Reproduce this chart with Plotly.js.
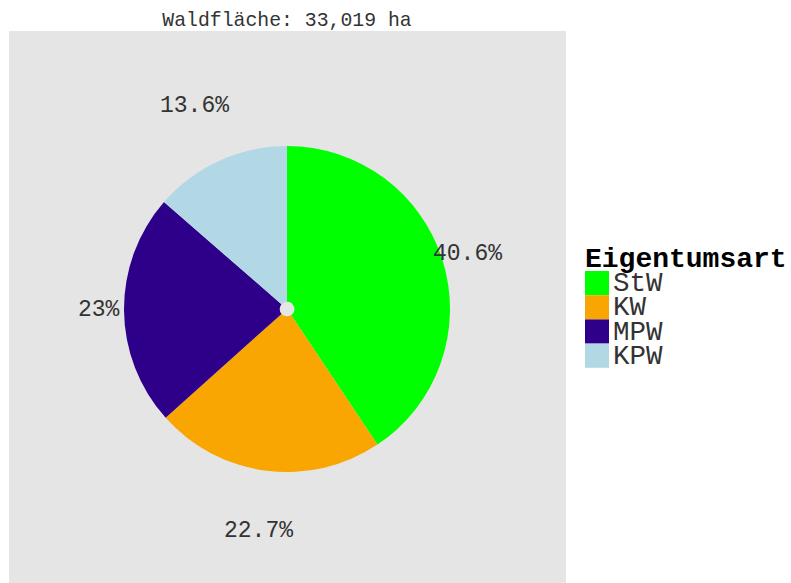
<!DOCTYPE html>
<html>
<head>
<meta charset="utf-8">
<script src="https://cdn.plot.ly/plotly-3.0.1.min.js"></script>
<style>html,body{margin:0;padding:0;background:#fff;}#chart{width:791px;height:583px;}</style>
</head>
<body>
<div id="chart"></div>
<script>
// ---- data ----
const categories = ["StW", "KW", "MPW", "KPW"];
const shares = [40.6, 22.7, 23, 13.6];
const sliceColors = ["#00FF00", "#F9A602", "#2E008A", "#B2D8E6"];
const chartTitle = "Waldfläche: 33,019 ha";
const legendTitle = "Eigentumsart";

// ---- layout constants (pixels) ----
const W = 791, H = 583;
const M = {l: 9, r: 225, t: 31, b: 0};
const PW = W - M.l - M.r, PH = H - M.t - M.b;
const CX = 287, CY = 309, R = 163;
const LABEL_R = [1.155, 1.37];
const FONT = "Liberation Mono, Courier New, monospace";

const px2x = p => (p - M.l) / PW;
const py2y = p => (H - M.b - p) / PH;

const total = shares.reduce((a, b) => a + b, 0);
const annotations = [];
let cum = 0;
shares.forEach((v, i) => {
  const th = 2 * Math.PI * (cum + v / 2) / total;
  cum += v;
  const r = R * LABEL_R[i % 2];
  annotations.push({
    xref: "paper", yref: "paper",
    x: px2x(CX + r * Math.sin(th)), y: py2y(CY - r * Math.cos(th)),
    text: String(v) + "%", showarrow: false,
    xanchor: "center", yanchor: "middle",
    font: {family: FONT, size: 23, color: "#333"}
  });
});

// manual legend (ggplot-style large swatches)
const LEG_X = 585, LEG_Y0 = 271, SW = 24, ROW = 24.2;
annotations.push({
  xref: "paper", yref: "paper", x: px2x(LEG_X - 2), y: py2y(259),
  text: "<b>" + legendTitle + "</b>", showarrow: false,
  xanchor: "left", yanchor: "middle",
  font: {family: FONT, size: 28, color: "#000"}
});
const shapes = [{
  type: "rect", xref: "paper", yref: "paper", x0: 0, x1: 1, y0: 0, y1: 1,
  fillcolor: "#E5E5E5", line: {width: 0}, layer: "below"
}];
categories.forEach((c, i) => {
  const y0 = LEG_Y0 + i * ROW;
  shapes.push({
    type: "rect", xref: "paper", yref: "paper",
    x0: px2x(LEG_X), x1: px2x(LEG_X + SW), y0: py2y(y0), y1: py2y(y0 + ROW),
    fillcolor: sliceColors[i], line: {width: 0}, layer: "above"
  });
  annotations.push({
    xref: "paper", yref: "paper", x: px2x(LEG_X + SW + 2), y: py2y(y0 + ROW / 2 + 0.5),
    text: c, showarrow: false, xanchor: "left", yanchor: "middle",
    font: {family: FONT, size: 27.5, color: "#333"}
  });
});

const trace = {
  type: "pie",
  labels: categories,
  values: shares,
  sort: false,
  direction: "clockwise",
  rotation: 0,
  hole: 0.045,
  textinfo: "none",
  hoverinfo: "label+percent",
  marker: {colors: sliceColors, line: {width: 0}},
  domain: {
    x: [px2x(CX - R), px2x(CX + R)],
    y: [py2y(CY + R), py2y(CY - R)]
  },
  showlegend: false
};

const layout = {
  width: W, height: H,
  margin: M,
  paper_bgcolor: "#FFFFFF",
  showlegend: false,
  title: {
    text: chartTitle,
    font: {family: FONT, size: 19.8, color: "#333"},
    x: px2x(287), xref: "paper", xanchor: "center",
    y: 1 - 19 / H, yanchor: "middle"
  },
  shapes: shapes,
  annotations: annotations
};

Plotly.newPlot("chart", [trace], layout, {displayModeBar: false, responsive: false});
</script>
</body>
</html>
